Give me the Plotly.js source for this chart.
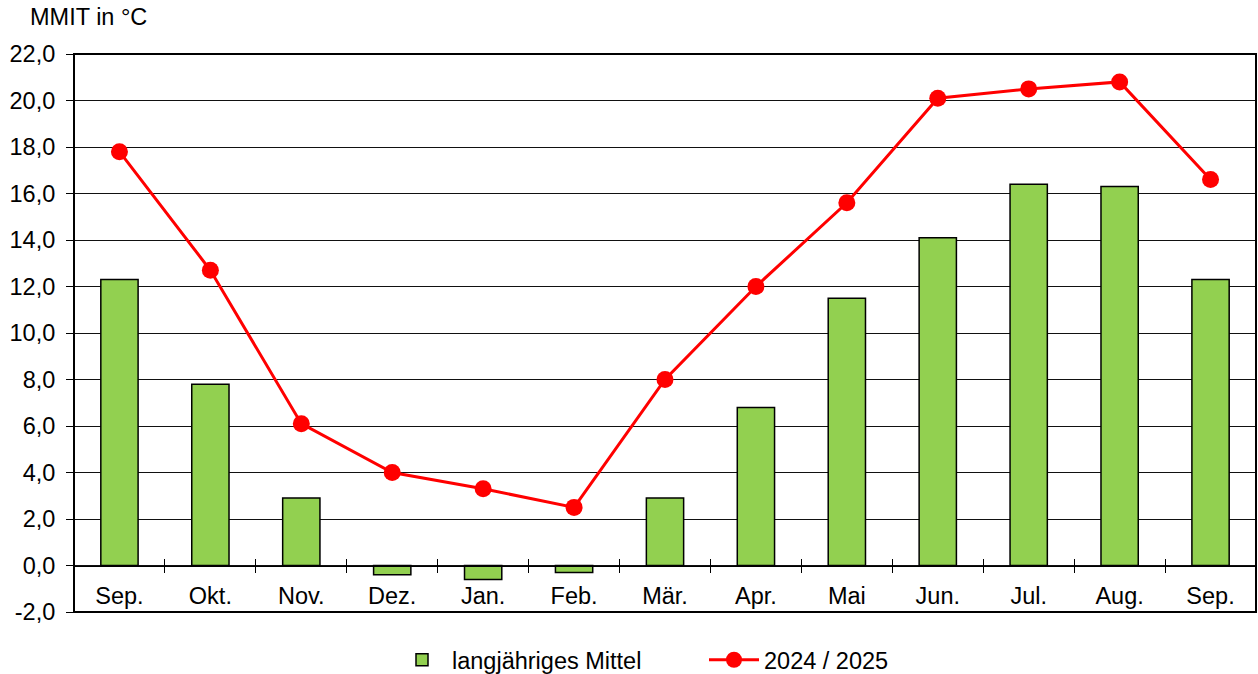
<!DOCTYPE html>
<html>
<head>
<meta charset="utf-8">
<script src="https://cdn.plot.ly/plotly-3.0.1.min.js"></script>
<style>html,body{margin:0;padding:0;background:#fff;}#chart{width:1258px;height:674px;}</style>
</head>
<body>
<div id="chart"></div>
<script>
const months = ["Sep.", "Okt.", "Nov.", "Dez.", "Jan.", "Feb.", "Mär.", "Apr.", "Mai", "Jun.", "Jul.", "Aug.", "Sep."];
const mittel = [12.3, 7.8, 2.9, -0.4, -0.6, -0.3, 2.9, 6.8, 11.5, 14.1, 16.4, 16.3, 12.3];
const jahr = [17.8, 12.7, 6.1, 4.0, 3.3, 2.5, 8.0, 12.0, 15.6, 20.1, 20.5, 20.8, 16.6];
const yTicks = [-2, 0, 2, 4, 6, 8, 10, 12, 14, 16, 18, 20, 22];

const idx = months.map((m, i) => i);
const bounds = months.slice(1).map((m, i) => i + 0.5);
const yMin = -2, yMax = 22;
const zeroPos = (0 - yMin) / (yMax - yMin);
const xr = [-0.5, months.length - 0.5];
const F = "Liberation Sans, Arial, sans-serif";
const FS = 23.5;
const plotH = 674 - 54 - 62;
const tickHalf = 7 / plotH;

const hiddenY = {showgrid: false, showticklabels: false, ticks: "", showline: false, zeroline: false, fixedrange: true};

const traces = [
  {
    type: "bar", name: "langjähriges Mittel", x: idx, y: mittel, width: 0.41,
    xaxis: "x", yaxis: "y",
    marker: {color: "#92D050", line: {color: "#000", width: 1.5}},
    hoverinfo: "y"
  },
  {
    // helper (no data): its x grid draws the category tick marks crossing the zero line
    type: "scatter", mode: "markers", x: [], y: [], xaxis: "x3", yaxis: "y3",
    showlegend: false, hoverinfo: "skip"
  },
  {
    type: "scatter", mode: "lines+markers", name: "2024 / 2025", x: idx, y: jahr,
    xaxis: "x2", yaxis: "y2", cliponaxis: false,
    line: {color: "#FF0000", width: 3},
    marker: {color: "#FF0000", size: 17, symbol: "circle"},
    hoverinfo: "y"
  }
];

const layout = {
  width: 1258, height: 674,
  margin: {l: 74, r: 2, t: 54, b: 62},
  paper_bgcolor: "#fff", plot_bgcolor: "rgba(0,0,0,0)",
  separators: ",.",
  font: {family: F, size: FS, color: "#000"},
  showlegend: true,
  title: {
    text: "MMIT in °C", font: {family: F, size: FS, color: "#000"},
    xref: "container", yref: "container", x: 30 / 1258, xanchor: "left", y: 1 - 17 / 674, yanchor: "middle"
  },
  xaxis: {
    anchor: "y", range: xr,
    showticklabels: false, ticks: "", showline: false, showgrid: false, zeroline: false, fixedrange: true
  },
  yaxis: {
    domain: [0, 1], anchor: "x", range: [yMin, yMax], tickmode: "array", tickvals: yTicks,
    ticktext: yTicks.map(v => v.toFixed(1).replace(".", ",")),
    ticks: "outside", ticklen: 7, tickcolor: "#000", tickwidth: 1, ticklabelstandoff: 6,
    showgrid: true, gridcolor: "#111", gridwidth: 1, zeroline: false,
    showline: false,
    tickfont: {family: F, size: FS, color: "#000"}, fixedrange: true
  },
  xaxis2: {
    anchor: "y2", side: "bottom", range: xr,
    tickmode: "array", tickvals: idx, ticktext: months,
    ticks: "outside", ticklen: 7, tickwidth: 1, tickcolor: "rgba(0,0,0,0)", ticklabelstandoff: 2,
    showline: true, linecolor: "#000", linewidth: 1, showgrid: false, zeroline: false,
    tickfont: {family: F, size: FS, color: "#000"}, fixedrange: true
  },
  yaxis2: Object.assign({domain: [zeroPos, 1], anchor: "x2", range: [0, yMax]}, hiddenY),
  xaxis3: {
    anchor: "y3", range: xr,
    tickmode: "array", tickvals: bounds, showgrid: true, gridcolor: "#000", gridwidth: 1,
    ticks: "", showticklabels: false, showline: false, zeroline: false, fixedrange: true
  },
  yaxis3: Object.assign({domain: [zeroPos - tickHalf, zeroPos + tickHalf], anchor: "x3", range: [-1, 1]}, hiddenY),
  shapes: [
    {type: "rect", xref: "paper", yref: "paper", x0: 0, x1: 1, y0: 0, y1: 1,
     line: {color: "#000", width: 2}, fillcolor: "rgba(0,0,0,0)", layer: "above"}
  ],
  legend: {
    orientation: "h", xref: "container", yref: "container",
    x: 392 / 1258, xanchor: "left", y: 1 - 660 / 674, yanchor: "middle",
    font: {family: F, size: FS, color: "#000"},
    entrywidth: 247, entrywidthmode: "pixels", itemwidth: 50,
    bgcolor: "rgba(0,0,0,0)"
  }
};

Plotly.newPlot("chart", traces, layout, {displayModeBar: false, staticPlot: true});
</script>
</body>
</html>
